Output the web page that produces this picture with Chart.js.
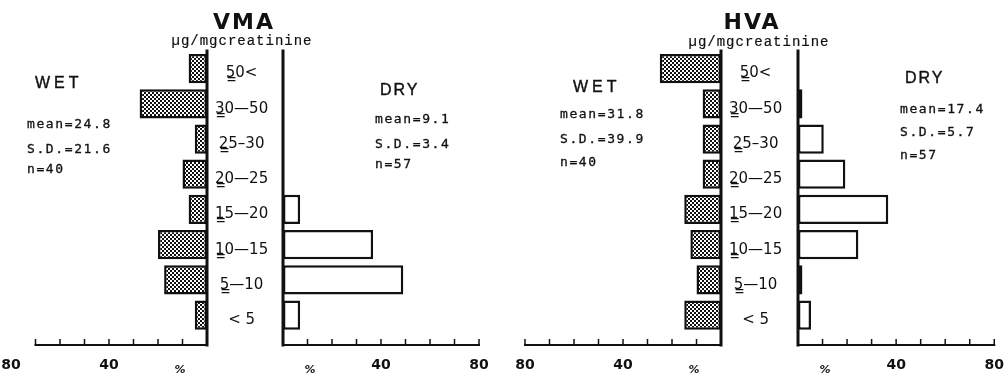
<!DOCTYPE html>
<html>
<head>
<meta charset="utf-8">
<script src="https://cdn.jsdelivr.net/npm/chart.js@4/dist/chart.umd.min.js"></script>
<style>
  html, body { margin: 0; padding: 0; background: #fff; }
  #fig { position: relative; width: 1008px; height: 378px; overflow: hidden; background: #fff; }
  #fig canvas { position: absolute; top: 0; }
  .t { position: absolute; white-space: nowrap; line-height: 1; color: #111; }
  .title { font: bold 22px "DejaVu Sans", sans-serif; letter-spacing: 2px; transform: translateX(-50%); }
  .unit { font: 14px "Liberation Mono", monospace; letter-spacing: 1px; transform: translateX(-50%); -webkit-text-stroke: 0.2px #111; }
  .grp { font: 16px "Liberation Sans", sans-serif; -webkit-text-stroke: 0.4px #111; }
  .stat { font: 13px "DejaVu Sans Mono", monospace; letter-spacing: 1.6px; -webkit-text-stroke: 0.3px #111; }
</style>
</head>
<body>
<div id="fig">
  <canvas id="vmaWet" width="283" height="378" style="left:0px"></canvas>
  <canvas id="vmaDry" width="230" height="378" style="left:270px"></canvas>
  <canvas id="hvaWet" width="288" height="378" style="left:510px"></canvas>
  <canvas id="hvaDry" width="223" height="378" style="left:785px"></canvas>

  <div class="t title" style="left:244px; top:9px">VMA</div>
  <div class="t unit" style="left:242px; top:33px">µg/mgcreatinine</div>
  <div class="t grp" style="left:35px; top:74px; letter-spacing:4px">WET</div>
  <div class="t stat" style="left:27px; top:116px">mean=24.8</div>
  <div class="t stat" style="left:27px; top:141px">S.D.=21.6</div>
  <div class="t stat" style="left:27px; top:161px">n=40</div>
  <div class="t grp" style="left:380px; top:81px; letter-spacing:2px">DRY</div>
  <div class="t stat" style="left:375px; top:111px">mean=9.1</div>
  <div class="t stat" style="left:375px; top:136px">S.D.=3.4</div>
  <div class="t stat" style="left:375px; top:156px">n=57</div>

  <div class="t title" style="left:752px; top:9px">HVA</div>
  <div class="t unit" style="left:759px; top:34px">µg/mgcreatinine</div>
  <div class="t grp" style="left:573px; top:78px; letter-spacing:4px">WET</div>
  <div class="t stat" style="left:560px; top:106px">mean=31.8</div>
  <div class="t stat" style="left:560px; top:131px">S.D.=39.9</div>
  <div class="t stat" style="left:560px; top:154px">n=40</div>
  <div class="t grp" style="left:905px; top:69px; letter-spacing:2px">DRY</div>
  <div class="t stat" style="left:900px; top:101px">mean=17.4</div>
  <div class="t stat" style="left:900px; top:124px">S.D.=5.7</div>
  <div class="t stat" style="left:900px; top:147px">n=57</div>
</div>
<script>
// Concentration classes (µg/mg creatinine), top row first; the double
// underline marks the inclusive lower bound.
const categories = ["5\u03330<", "3\u03330\u201450", "2\u03335\u201330", "2\u03330\u201425",
                    "1\u03335\u201420", "1\u03330\u201415", "5\u0333\u201410", "< 5"];

// Percentage of subjects in each class
const vmaWet = [7.5, 27.5, 5, 10, 7.5, 20, 17.5, 5];
const vmaDry = [0, 0, 0, 0, 7.0, 36.8, 49.1, 7.0];
const hvaWet = [25, 7.5, 7.5, 7.5, 15, 12.5, 10, 15];
const hvaDry = [0, 1.8, 10.5, 19.3, 36.8, 24.6, 1.8, 5.3];

// Percent axis
const pctTicks = [0, 10, 20, 30, 40, 50, 60, 70, 80];
const pctLabels = [40, 80];

const INK = '#111';

function hatchFor(ctx) {
  const tile = document.createElement('canvas');
  tile.width = 4; tile.height = 4;
  const t = tile.getContext('2d');
  t.fillStyle = '#fff'; t.fillRect(0, 0, 4, 4);
  t.fillStyle = INK; t.fillRect(0, 0, 2, 2); t.fillRect(2, 2, 2, 2);
  return ctx.createPattern(tile, 'repeat');
}

// Baseline, percent axis with inward tick marks, and the "%" unit
const axisLines = {
  id: 'axisLines',
  afterDraw(chart, args, opts) {
    const { ctx, chartArea } = chart;
    const x = chart.scales.x;
    const x0 = x.getPixelForValue(0);
    const xe = x.getPixelForValue(opts.end);
    const yb = chartArea.bottom;
    ctx.save();
    ctx.strokeStyle = INK;
    ctx.lineCap = 'square';
    ctx.lineWidth = 3;
    ctx.beginPath(); ctx.moveTo(x0, chartArea.top); ctx.lineTo(x0, yb); ctx.stroke();
    ctx.lineWidth = 2;
    ctx.beginPath(); ctx.moveTo(x0, yb); ctx.lineTo(xe, yb); ctx.stroke();
    ctx.lineWidth = 1.5;
    ctx.lineCap = 'butt';
    x.ticks.forEach(t => {
      if (t.value > 0 && t.value <= opts.end) {
        const px = x.getPixelForValue(t.value);
        ctx.beginPath(); ctx.moveTo(px, yb); ctx.lineTo(px, yb - 6); ctx.stroke();
      }
    });
    ctx.fillStyle = INK;
    ctx.font = 'italic bold 11px "DejaVu Sans", sans-serif';
    ctx.textAlign = 'center';
    ctx.textBaseline = 'middle';
    ctx.fillText('%', x.getPixelForValue(opts.unitAt), yb + 25);
    ctx.restore();
  }
};

function histogram(id, values, wet, axisEnd, padding, labelWidth) {
  const canvas = document.getElementById(id);
  const ctx = canvas.getContext('2d');
  return new Chart(canvas, {
    type: 'bar',
    data: {
      datasets: [{
        data: values.map((v, i) => ({ x: v, y: i })),
        backgroundColor: wet ? hatchFor(ctx) : '#fff',
        borderColor: INK,
        borderWidth: 2.5,
        borderSkipped: false,
        barPercentage: 0.83,
        categoryPercentage: 1
      }]
    },
    options: {
      indexAxis: 'y',
      responsive: false,
      animation: false,
      events: [],
      layout: { padding },
      plugins: {
        legend: { display: false },
        tooltip: { enabled: false },
        axisLines: { end: axisEnd, unitAt: 11 }
      },
      scales: {
        x: {
          type: 'linear', min: 0, max: 80, reverse: wet,
          grid: { display: false }, border: { display: false },
          afterBuildTicks: s => { s.ticks = pctTicks.map(v => ({ value: v })); },
          afterFit: s => { s.height = 33; },
          ticks: {
            autoSkip: false, maxRotation: 0, padding: 4, color: INK,
            font: { family: '"DejaVu Sans", sans-serif', size: 14, weight: 'bold' },
            callback: v => pctLabels.includes(v) ? String(v) : ''
          }
        },
        y: {
          type: 'linear', position: wet ? 'right' : 'left', offset: false,
          min: -0.5, max: 7.85, reverse: true,
          grid: { display: false }, border: { display: false },
          afterBuildTicks: s => { s.ticks = categories.map((_, i) => ({ value: i })); },
          afterFit: s => { s.width = labelWidth; },
          ticks: {
            display: wet, autoSkip: false, crossAlign: 'center', labelOffset: 5,
            padding: 0, color: INK,
            font: { family: '"DejaVu Sans", sans-serif', size: 15 },
            callback: v => categories[v]
          }
        }
      }
    },
    plugins: [axisLines]
  });
}

histogram('vmaWet', vmaWet, true, 70, { left: 11, top: 51, right: 0, bottom: 0 }, 76);
histogram('vmaDry', vmaDry, false, 80, { left: 13, top: 51, right: 21, bottom: 0 }, 0);
histogram('hvaWet', hvaWet, true, 80, { left: 15, top: 51, right: 0, bottom: 0 }, 77);
histogram('hvaDry', hvaDry, false, 80, { left: 13, top: 51, right: 13, bottom: 0 }, 0);
</script>
</body>
</html>
